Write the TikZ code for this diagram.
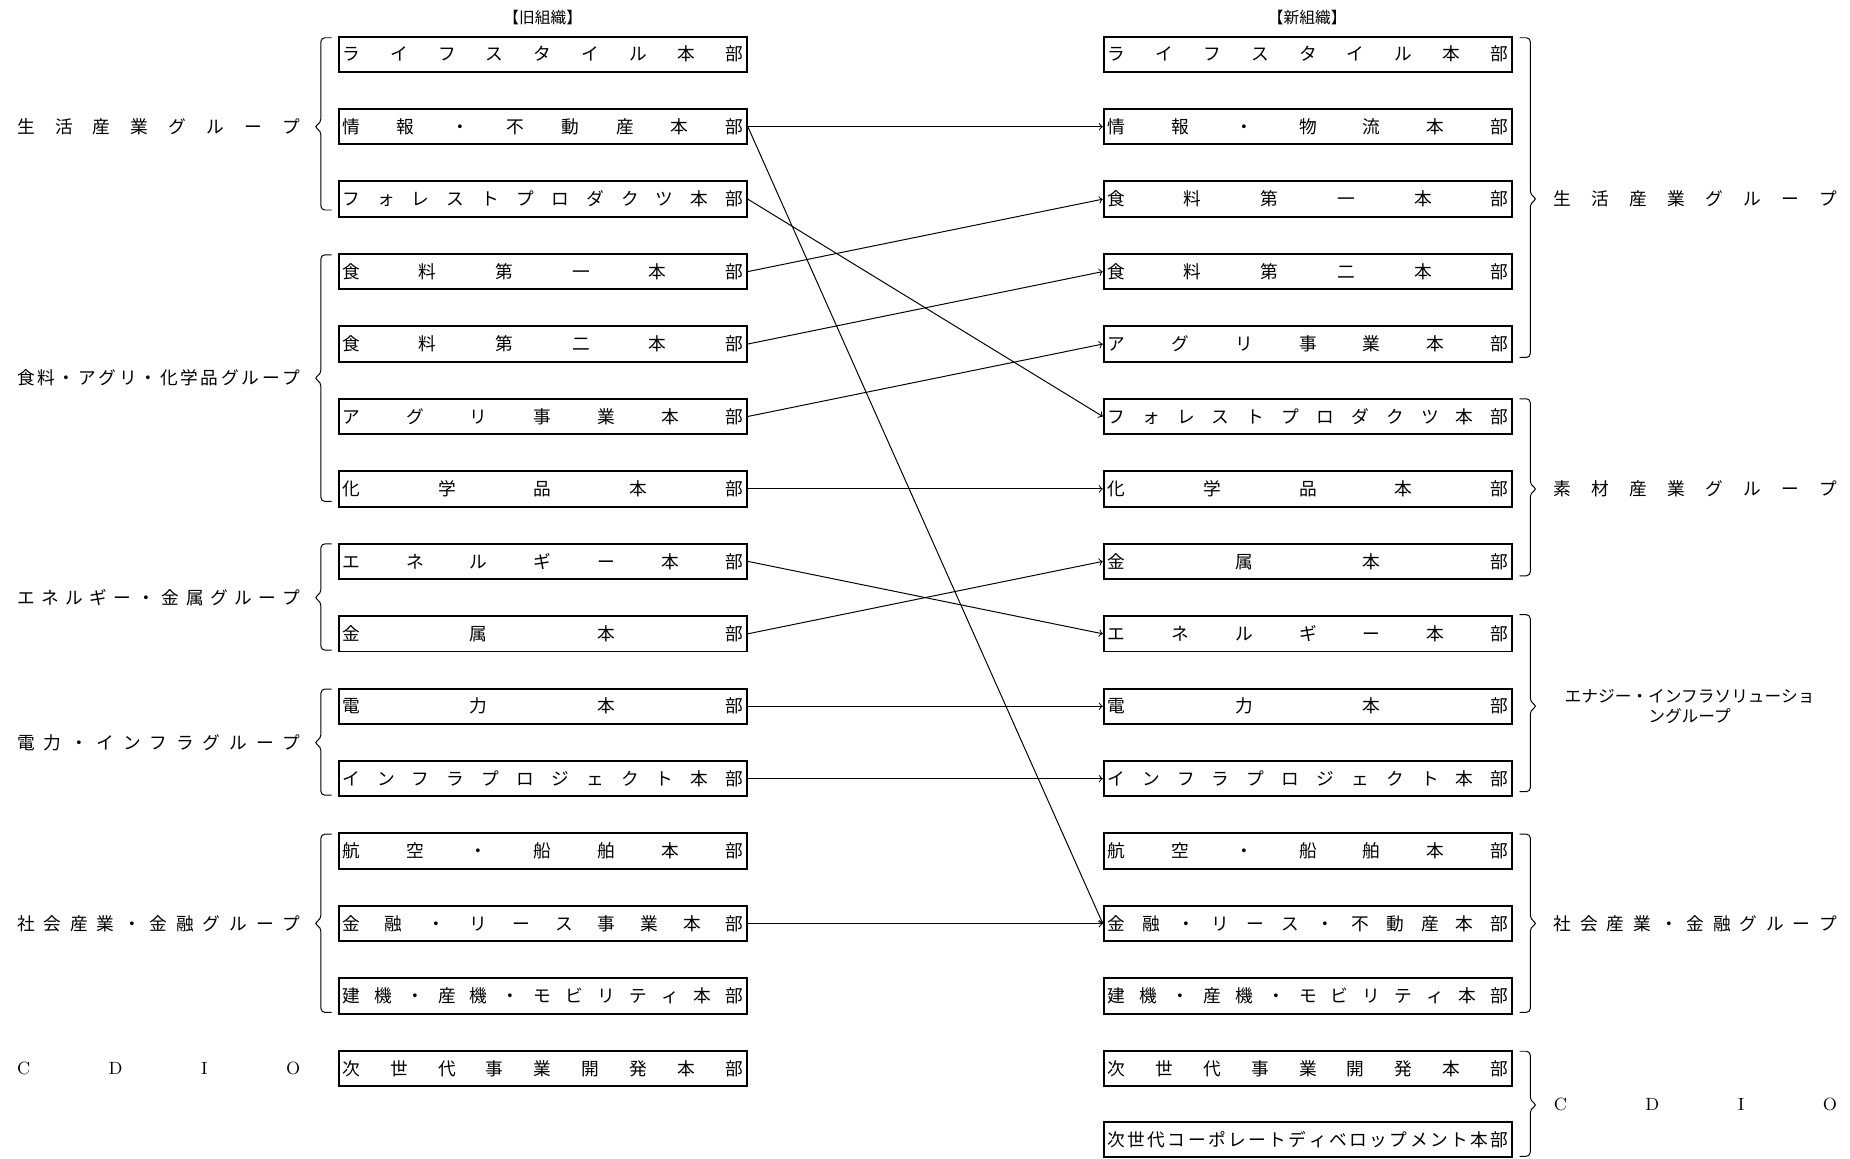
\documentclass[tikz,border=0pt]{standalone}
\usepackage{fontspec}
\usepackage{tikz}
\newfontfamily\jpfont{Noto Sans CJK JP}
\makeatletter
\newcommand\spreadchars[1]{\def\spreadsep{}\@tfor\spreadch:=#1\do{\spreadsep\spreadch\def\spreadsep{\hfill}}}
\makeatother
\newcommand\hqtext[1]{\makebox[204pt][s]{\spreadchars{#1}}}
\newcommand\grplabel[1]{\makebox[144pt][s]{\spreadchars{#1}}}

\begin{document}
\begin{tikzpicture}[x=0.6pt,y=0.6pt,
  unit/.style={draw,line width=1pt,minimum width=207.6pt,minimum height=18pt,inner sep=0pt,
    font=\jpfont\fontsize{9}{11}\selectfont},
  grp/.style={inner sep=0pt,font=\jpfont\fontsize{9}{11}\selectfont},
  brk/.style={line width=0.5pt,rounded corners=2pt},
  conn/.style={line width=0.5pt,->}]
\useasboundingbox (0,0) rectangle (1568,-982);

% headings
\node[grp,font=\jpfont\fontsize{8}{10}\selectfont] (oldhead) at (460,-15) {【旧組織】};
\node[grp,font=\jpfont\fontsize{8}{10}\selectfont] (newhead) at (1108,-15) {【新組織】};

% old organisation
\node[unit] (old1) at (460,-46) {\hqtext{ライフスタイル本部}};
\node[unit] (old2) at (460,-107.4) {\hqtext{情報・不動産本部}};
\node[unit] (old3) at (460,-168.8) {\hqtext{フォレストプロダクツ本部}};
\node[unit] (old4) at (460,-230.2) {\hqtext{食料第一本部}};
\node[unit] (old5) at (460,-291.6) {\hqtext{食料第二本部}};
\node[unit] (old6) at (460,-353) {\hqtext{アグリ事業本部}};
\node[unit] (old7) at (460,-414.4) {\hqtext{化学品本部}};
\node[unit] (old8) at (460,-475.8) {\hqtext{エネルギー本部}};
\node[unit] (old9) at (460,-537.2) {\hqtext{金属本部}};
\node[unit] (old10) at (460,-598.6) {\hqtext{電力本部}};
\node[unit] (old11) at (460,-660) {\hqtext{インフラプロジェクト本部}};
\node[unit] (old12) at (460,-721.4) {\hqtext{航空・船舶本部}};
\node[unit] (old13) at (460,-782.8) {\hqtext{金融・リース事業本部}};
\node[unit] (old14) at (460,-844.2) {\hqtext{建機・産機・モビリティ本部}};
\node[unit] (old15) at (460,-905.6) {\hqtext{次世代事業開発本部}};

% new organisation
\node[unit] (new1) at (1108.5,-46) {\hqtext{ライフスタイル本部}};
\node[unit] (new2) at (1108.5,-107.4) {\hqtext{情報・物流本部}};
\node[unit] (new3) at (1108.5,-168.8) {\hqtext{食料第一本部}};
\node[unit] (new4) at (1108.5,-230.2) {\hqtext{食料第二本部}};
\node[unit] (new5) at (1108.5,-291.6) {\hqtext{アグリ事業本部}};
\node[unit] (new6) at (1108.5,-353) {\hqtext{フォレストプロダクツ本部}};
\node[unit] (new7) at (1108.5,-414.4) {\hqtext{化学品本部}};
\node[unit] (new8) at (1108.5,-475.8) {\hqtext{金属本部}};
\node[unit] (new9) at (1108.5,-537.2) {\hqtext{エネルギー本部}};
\node[unit] (new10) at (1108.5,-598.6) {\hqtext{電力本部}};
\node[unit] (new11) at (1108.5,-660) {\hqtext{インフラプロジェクト本部}};
\node[unit] (new12) at (1108.5,-721.4) {\hqtext{航空・船舶本部}};
\node[unit] (new13) at (1108.5,-782.8) {\hqtext{金融・リース・不動産本部}};
\node[unit] (new14) at (1108.5,-844.2) {\hqtext{建機・産機・モビリティ本部}};
\node[unit] (new15) at (1108.5,-905.6) {\hqtext{次世代事業開発本部}};
\node[unit] (new16) at (1108.5,-966) {\hqtext{次世代コーポレートディベロップメント本部}};

% old groups
\draw[brk] (281,-32) -- (272,-32) -- (272,-104) -- (266,-107.4) -- (272,-111) -- (272,-178) -- (281,-178);
\node[grp] (ogrp1) at (134.5,-107.4) {\grplabel{生活産業グループ}};
\draw[brk] (281,-216) -- (272,-216) -- (272,-317) -- (266,-320.5) -- (272,-324) -- (272,-425) -- (281,-425);
\node[grp] (ogrp2) at (134.5,-320.5) {\grplabel{食料・アグリ・化学品グループ}};
\draw[brk] (281,-461) -- (272,-461) -- (272,-503) -- (266,-506.5) -- (272,-510) -- (272,-551) -- (281,-551);
\node[grp] (ogrp3) at (134.5,-506.5) {\grplabel{エネルギー・金属グループ}};
\draw[brk] (281,-584) -- (272,-584) -- (272,-626) -- (266,-629.3) -- (272,-633) -- (272,-674) -- (281,-674);
\node[grp] (ogrp4) at (134.5,-629.3) {\grplabel{電力・インフラグループ}};
\draw[brk] (281,-707) -- (272,-707) -- (272,-779) -- (266,-782.8) -- (272,-786) -- (272,-858) -- (281,-858);
\node[grp] (ogrp5) at (134.5,-782.8) {\grplabel{社会産業・金融グループ}};
\node[grp,font=\rmfamily\fontsize{9}{11}\selectfont] (ogrp6) at (134.5,-905.6) {\grplabel{CDIO}};

% new groups
\draw[brk] (1288,-32) -- (1297,-32) -- (1297,-165) -- (1303,-168.8) -- (1297,-172) -- (1297,-303) -- (1288,-303);
\node[grp] (ngrp1) at (1437,-168.8) {\grplabel{生活産業グループ}};
\draw[brk] (1288,-338) -- (1297,-338) -- (1297,-411) -- (1303,-414.4) -- (1297,-418) -- (1297,-488) -- (1288,-488);
\node[grp] (ngrp2) at (1437,-414.4) {\grplabel{素材産業グループ}};
\draw[brk] (1288,-521) -- (1297,-521) -- (1297,-595) -- (1303,-598.6) -- (1297,-602) -- (1297,-671) -- (1288,-671);
\node[grp,align=center,font=\jpfont\fontsize{8.5}{10}\selectfont] (ngrp3) at (1432,-598.6) {エナジー・インフラソリューショ\\ングループ};
\draw[brk] (1288,-707) -- (1297,-707) -- (1297,-779) -- (1303,-782.8) -- (1297,-786) -- (1297,-858) -- (1288,-858);
\node[grp] (ngrp4) at (1437,-782.8) {\grplabel{社会産業・金融グループ}};
\draw[brk] (1288,-891) -- (1297,-891) -- (1297,-933) -- (1303,-936.5) -- (1297,-940) -- (1297,-980) -- (1288,-980);
\node[grp,font=\rmfamily\fontsize{9}{11}\selectfont] (ngrp5) at (1437,-936.5) {\grplabel{CDIO}};

% moves
\draw[conn] (old2.east) -- (new2.west);
\draw[conn] (old2.east) -- (new13.west);
\draw[conn] (old3.east) -- (new6.west);
\draw[conn] (old4.east) -- (new3.west);
\draw[conn] (old5.east) -- (new4.west);
\draw[conn] (old6.east) -- (new5.west);
\draw[conn] (old7.east) -- (new7.west);
\draw[conn] (old8.east) -- (new9.west);
\draw[conn] (old9.east) -- (new8.west);
\draw[conn] (old10.east) -- (new10.west);
\draw[conn] (old11.east) -- (new11.west);
\draw[conn] (old13.east) -- (new13.west);
\end{tikzpicture}
\end{document}
